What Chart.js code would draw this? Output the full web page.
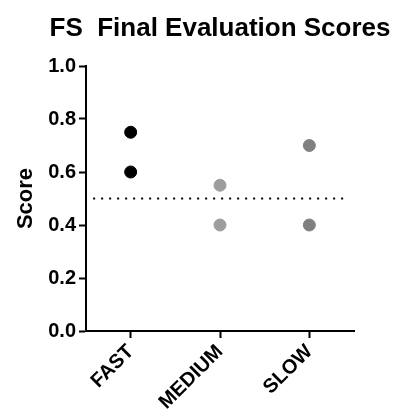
<!DOCTYPE html>
<html>
<head>
<meta charset="utf-8">
<script src="https://cdn.jsdelivr.net/npm/chart.js@4"></script>
<style>
  html, body { margin: 0; padding: 0; background: #fff; }
  #wrap { width: 399px; height: 412px; }
</style>
</head>
<body>
<div id="wrap"><canvas id="scoreChart" width="399" height="412"></canvas></div>
<script>
const categories = ['FAST', 'MEDIUM', 'SLOW'];
const fastScores = [0.75, 0.60];
const mediumScores = [0.55, 0.40];
const slowScores = [0.70, 0.40];
const yTicks = [0.0, 0.2, 0.4, 0.6, 0.8, 1.0];
const threshold = 0.5;
const chartTitle = 'FS  Final Evaluation Scores';

const pointColors = ['#000000', '#9d9d9d', '#808080'];
const allScores = [fastScores, mediumScores, slowScores];

const toPoints = (scores, idx) => scores.map((s) => ({ x: idx, y: s }));

const fontFam = 'Arial, "Liberation Sans", sans-serif';

// dotted reference line drawn through the scales
const thresholdLine = {
  id: 'thresholdLine',
  beforeDatasetsDraw(chart) {
    const { ctx, scales } = chart;
    const y = scales.y.getPixelForValue(threshold);
    const x1 = scales.x.getPixelForValue(-0.42);
    const x2 = scales.x.getPixelForValue(2.42);
    ctx.save();
    ctx.strokeStyle = '#000';
    ctx.lineWidth = 2;
    ctx.setLineDash([2, 6]);
    ctx.beginPath();
    ctx.moveTo(x1, y);
    ctx.lineTo(x2, y);
    ctx.stroke();
    ctx.restore();
  }
};

// title centred over the plot area (built-in title squeezes it to fit)
const plotTitle = {
  id: 'plotTitle',
  afterDraw(chart) {
    const { ctx, chartArea } = chart;
    ctx.save();
    ctx.fillStyle = '#000';
    ctx.font = 'bold 26px ' + fontFam;
    ctx.textAlign = 'center';
    ctx.textBaseline = 'alphabetic';
    ctx.fillText(chartTitle, (chartArea.left + chartArea.right) / 2, 36);
    ctx.restore();
  }
};

const ctx = document.getElementById('scoreChart').getContext('2d');
new Chart(ctx, {
  type: 'scatter',
  data: {
    datasets: allScores.map((scores, i) => ({
      label: categories[i],
      data: toPoints(scores, i),
      backgroundColor: pointColors[i],
      borderColor: pointColors[i],
      pointRadius: 6,
      pointHoverRadius: 6,
    })),
  },
  options: {
    responsive: false,
    animation: false,
    layout: { padding: { left: 0, right: 45, top: 66, bottom: 0 } },
    plugins: {
      legend: { display: false },
      tooltip: { enabled: false },
      title: { display: false },
    },
    scales: {
      x: {
        type: 'linear',
        min: -0.5,
        max: 2.5,
        afterBuildTicks: (axis) => {
          axis.ticks = categories.map((c, i) => ({ value: i }));
        },
        afterFit: (axis) => { axis.height = 81; },
        ticks: {
          color: '#000',
          font: { family: fontFam, size: 20, weight: 'bold' },
          minRotation: 45,
          maxRotation: 45,
          padding: 2,
          callback: (v) => categories[v],
        },
        grid: { display: true, drawOnChartArea: false, drawTicks: true, tickLength: 7, tickWidth: 2, tickColor: '#000' },
        border: { display: true, color: '#000', width: 2 },
      },
      y: {
        min: 0,
        max: 1,
        afterBuildTicks: (axis) => {
          axis.ticks = yTicks.map((v) => ({ value: v }));
        },
        afterFit: (axis) => { axis.width = 86; },
        ticks: {
          color: '#000',
          font: { family: fontFam, size: 20, weight: 'bold' },
          padding: 3,
          callback: (v) => Number(v).toFixed(1),
        },
        title: {
          display: true,
          text: 'Score',
          color: '#000',
          font: { family: fontFam, size: 22, weight: 'bold' },
          padding: { top: 13, bottom: 0 },
        },
        grid: { display: true, drawOnChartArea: false, drawTicks: true, tickLength: 7, tickWidth: 2, tickColor: '#000' },
        border: { display: true, color: '#000', width: 2 },
      },
    },
  },
  plugins: [thresholdLine, plotTitle],
});
</script>
</body>
</html>
